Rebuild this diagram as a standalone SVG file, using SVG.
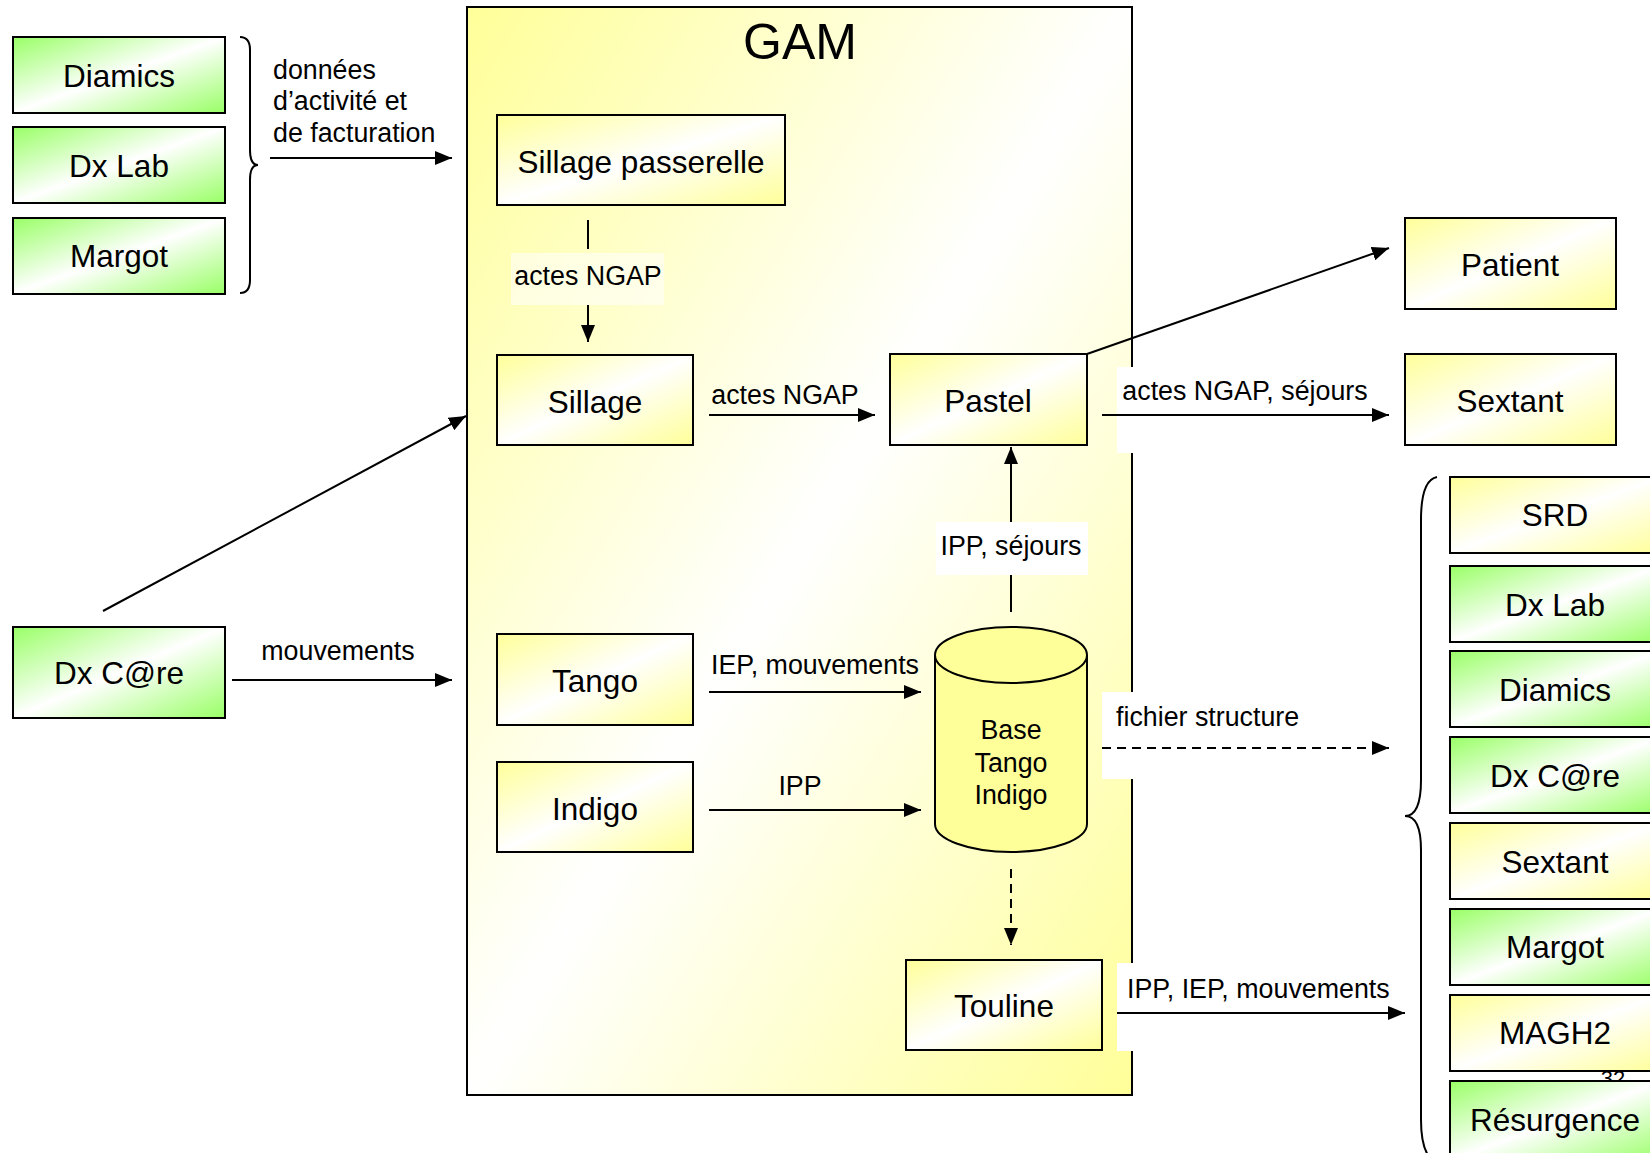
<svg xmlns="http://www.w3.org/2000/svg" width="1650" height="1153" viewBox="0 0 1650 1153">
<defs>
<linearGradient id="gy" x1="0" y1="0" x2="1" y2="1">
<stop offset="0" stop-color="#ffff99"/><stop offset="0.5" stop-color="#ffffff"/><stop offset="1" stop-color="#ffff99"/>
</linearGradient>
<linearGradient id="gg" x1="0" y1="0" x2="1" y2="1">
<stop offset="0" stop-color="#99ff66"/><stop offset="0.5" stop-color="#ffffff"/><stop offset="1" stop-color="#99ff66"/>
</linearGradient>
<marker id="ah" markerUnits="userSpaceOnUse" markerWidth="18" markerHeight="14" refX="17" refY="7" orient="auto">
<path d="M0,0 L17,7 L0,14 z" fill="#000"/>
</marker>
<style>
.y{fill:url(#gy);stroke:#000;stroke-width:2}
.g{fill:url(#gg);stroke:#000;stroke-width:2}
.t{font-family:"Liberation Sans",Arial,sans-serif;font-size:31.5px;fill:#000;text-anchor:middle}
.l{font-family:"Liberation Sans",Arial,sans-serif;font-size:26.8px;fill:#000}
.c{text-anchor:middle}
.ln{stroke:#000;stroke-width:2;fill:none}
.ar{stroke:#000;stroke-width:2;fill:none;marker-end:url(#ah)}
.da{stroke-dasharray:9 6}
</style>
</defs>
<rect width="1650" height="1153" fill="#fff"/>

<g id="GAM">
<rect x="467" y="7" width="665" height="1088" class="y"/>
<text x="800" y="59" class="t" style="font-size:50px">GAM</text>
</g>

<g id="label-bgs">
<rect x="511" y="253" width="153" height="52" fill="#fff" fill-opacity="0.55"/>
<rect x="1117" y="367" width="265" height="86" fill="#fff"/>
<rect x="936" y="522" width="152" height="53" fill="#fff"/>
<rect x="1102" y="692" width="288" height="87" fill="#fff"/>
<rect x="1117" y="963" width="283" height="88" fill="#fff"/>
</g>

<text x="1613" y="1086" class="l c" style="font-size:22px">32</text>

<g id="connectors">
<path d="M240,37 Q250,37 250,50 L250,150 Q250,165 258,165 Q250,165 250,180 L250,280 Q250,293 240,293" class="ln"/>
<line x1="270" y1="158" x2="452" y2="158" class="ar"/>
<line x1="103" y1="611" x2="466" y2="416" class="ar"/>
<line x1="232" y1="680" x2="452" y2="680" class="ar"/>
<line x1="588" y1="220" x2="588" y2="249" class="ln"/>
<line x1="588" y1="305" x2="588" y2="342" class="ar"/>
<line x1="709" y1="415" x2="875" y2="415" class="ar"/>
<line x1="1087" y1="354" x2="1389" y2="248" class="ar"/>
<line x1="1102" y1="415" x2="1389" y2="415" class="ar"/>
<line x1="1011" y1="612" x2="1011" y2="575" class="ln"/>
<line x1="1011" y1="522" x2="1011" y2="447" class="ar"/>
<line x1="709" y1="692" x2="921" y2="692" class="ar"/>
<line x1="709" y1="810" x2="921" y2="810" class="ar"/>
<line x1="1102" y1="748" x2="1389" y2="748" class="ar da"/>
<line x1="1011" y1="869" x2="1011" y2="945" class="ar da"/>
<line x1="1117" y1="1013" x2="1405" y2="1013" class="ar"/>
<path d="M1437,477 Q1421,480 1421,520 L1421,780 Q1421,816 1405,816 Q1421,816 1421,850 L1421,1120 Q1421,1150 1432,1160" class="ln"/>
</g>

<g id="edge-labels">
<text x="273" y="79" class="l">données</text>
<text x="273" y="110" class="l">d’activité et</text>
<text x="273" y="142" class="l">de facturation</text>
<text x="588" y="285" class="l c">actes NGAP</text>
<text x="785" y="404" class="l c">actes NGAP</text>
<text x="1245" y="400" class="l c">actes NGAP, séjours</text>
<text x="1011" y="555" class="l c">IPP, séjours</text>
<text x="815" y="674" class="l c">IEP, mouvements</text>
<text x="800" y="795" class="l c">IPP</text>
<text x="1116" y="726" class="l">fichier structure</text>
<text x="1127" y="998" class="l">IPP, IEP, mouvements</text>
<text x="338" y="660" class="l c">mouvements</text>
</g>

<g id="n-diamics-l"><rect x="13" y="37" width="212" height="76" class="g"/><text x="119" y="87" class="t">Diamics</text></g>
<g id="n-dxlab-l"><rect x="13" y="127" width="212" height="76" class="g"/><text x="119" y="177" class="t">Dx Lab</text></g>
<g id="n-margot-l"><rect x="13" y="218" width="212" height="76" class="g"/><text x="119" y="267" class="t">Margot</text></g>
<g id="n-dxcare-l"><rect x="13" y="627" width="212" height="91" class="g"/><text x="119" y="684" class="t">Dx C@re</text></g>

<g id="n-sillage-passerelle"><rect x="497" y="115" width="288" height="90" class="y"/><text x="641" y="173" class="t">Sillage passerelle</text></g>
<g id="n-sillage"><rect x="497" y="355" width="196" height="90" class="y"/><text x="595" y="413" class="t">Sillage</text></g>
<g id="n-pastel"><rect x="890" y="354" width="197" height="91" class="y"/><text x="988" y="412" class="t">Pastel</text></g>
<g id="n-tango"><rect x="497" y="634" width="196" height="91" class="y"/><text x="595" y="692" class="t">Tango</text></g>
<g id="n-indigo"><rect x="497" y="762" width="196" height="90" class="y"/><text x="595" y="820" class="t">Indigo</text></g>
<g id="n-base">
<path d="M935,655 L935,824 A76,28 0 0 0 1087,824 L1087,655" fill="#ffff99" stroke="#000" stroke-width="2"/>
<ellipse cx="1011" cy="655" rx="76" ry="28" fill="#ffff99" stroke="#000" stroke-width="2"/>
<text x="1011" y="739" class="l c">Base</text>
<text x="1011" y="772" class="l c">Tango</text>
<text x="1011" y="804" class="l c">Indigo</text>
</g>
<g id="n-touline"><rect x="906" y="960" width="196" height="90" class="y"/><text x="1004" y="1017" class="t">Touline</text></g>

<g id="n-patient"><rect x="1405" y="218" width="211" height="91" class="y"/><text x="1510" y="276" class="t">Patient</text></g>
<g id="n-sextant"><rect x="1405" y="354" width="211" height="91" class="y"/><text x="1510" y="412" class="t">Sextant</text></g>

<g id="n-srd"><rect x="1450" y="477" width="212" height="76" class="y"/><text x="1555" y="526" class="t">SRD</text></g>
<g id="n-dxlab-r"><rect x="1450" y="566" width="212" height="76" class="g"/><text x="1555" y="616" class="t">Dx Lab</text></g>
<g id="n-diamics-r"><rect x="1450" y="651" width="212" height="76" class="g"/><text x="1555" y="701" class="t">Diamics</text></g>
<g id="n-dxcare-r"><rect x="1450" y="737" width="212" height="76" class="g"/><text x="1555" y="787" class="t">Dx C@re</text></g>
<g id="n-sextant-r"><rect x="1450" y="823" width="212" height="76" class="y"/><text x="1555" y="873" class="t">Sextant</text></g>
<g id="n-margot-r"><rect x="1450" y="909" width="212" height="76" class="g"/><text x="1555" y="958" class="t">Margot</text></g>
<g id="n-magh2"><rect x="1450" y="995" width="212" height="76" class="y"/><text x="1555" y="1044" class="t">MAGH2</text></g>
<g id="n-resurgence"><rect x="1450" y="1081" width="212" height="80" class="g"/><text x="1555" y="1131" class="t">Résurgence</text></g>
</svg>
